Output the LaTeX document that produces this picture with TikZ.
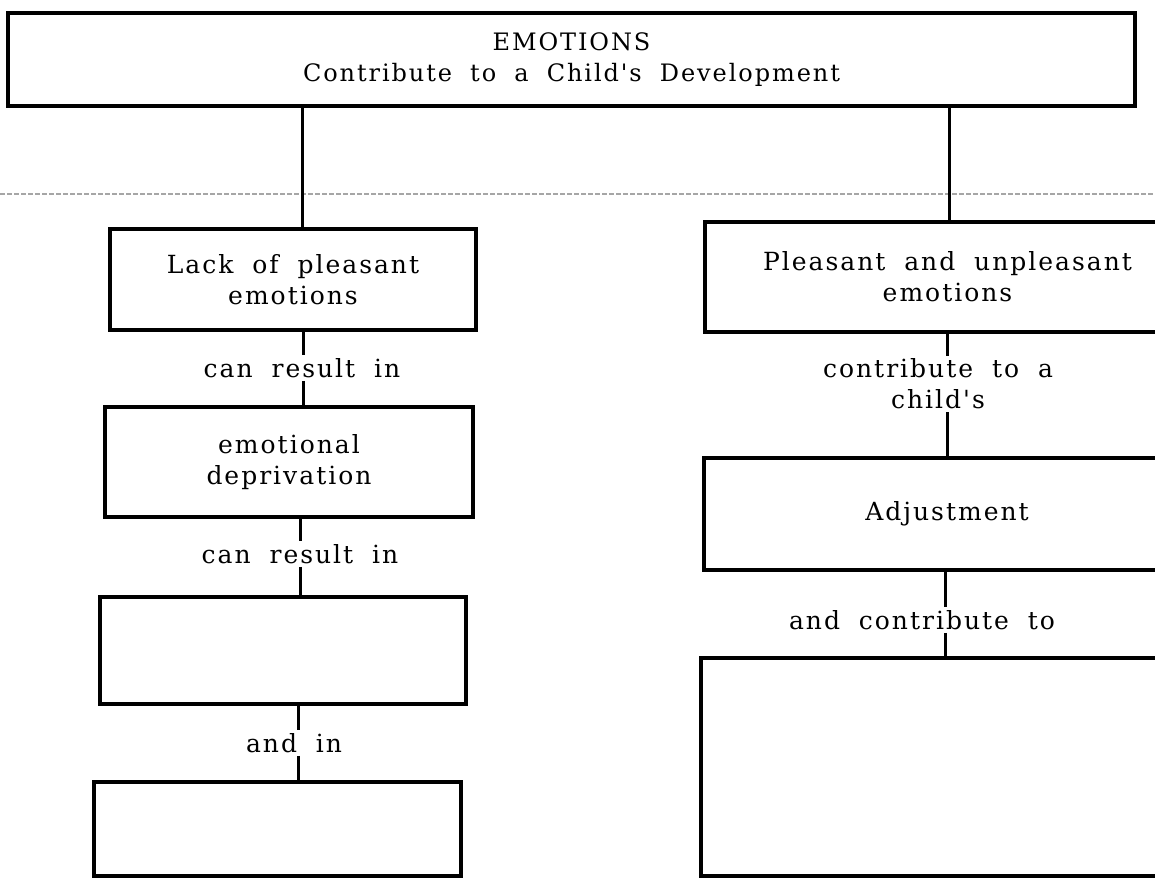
\documentclass[tikz,border=0pt]{standalone}
\usepackage{fontspec}
\setmainfont{DejaVu Serif}
\newfontfamily\spacedserif[LetterSpace=8,WordSpace=1.9]{DejaVu Serif}
\newcommand\lblfont{\spacedserif\fontsize{25}{31}\selectfont}
\newcommand\ttlfont{\spacedserif\fontsize{24}{33}\selectfont}
\begin{document}
\begin{tikzpicture}[x=1pt,y=-1pt,
  box/.style={draw,line width=3.8pt,inner sep=0pt,align=center,font=\lblfont},
  lbl/.style={inner sep=3pt,align=center,font=\lblfont},
  link/.style={line width=3pt}]
\useasboundingbox (0,0) rectangle (1155,878);
\fill[white] (0,0) rectangle (1155,878);

% fold line across the sheet
\draw[gray!70,line width=1.2pt,dash pattern=on 5pt off 2pt] (0,194) -- (1155,194);

% title box
\node[box,font=\ttlfont,minimum width=1127pt,minimum height=93pt] (top) at (571.5,59.5)
  {EMOTIONS\\[-2pt]Contribute to a Child's Development};

% left column
\node[box,minimum width=366pt,minimum height=101pt] (L1) at (293,279.5) {Lack of pleasant\\emotions};
\node[box,minimum width=368pt,minimum height=110pt] (L2) at (289,462) {emotional\\deprivation};
\node[box,minimum width=366pt,minimum height=107pt] (L3) at (283,650.5) {};
\node[box,minimum width=367pt,minimum height=94pt]  (L4) at (277.5,829) {};

\node[lbl] (c1) at (302,368) {can result in};
\node[lbl] (c2) at (300,554) {can result in};
\node[lbl] (c3) at (294,743) {and in};

% right column
\node[box,minimum width=485pt,minimum height=110pt] (R1) at (947.5,277) {Pleasant and unpleasant\\emotions};
\node[box,minimum width=486pt,minimum height=112pt] (R2) at (947,514) {Adjustment};
\node[box,minimum width=489pt,minimum height=218pt] (R3) at (945.5,767) {};

\node[lbl] (d1) at (938,384) {contribute to a\\child's};
\node[lbl] (d2) at (922,620) {and contribute to};

% x positions of the vertical links
\coordinate (lx1) at (302,0);
\coordinate (lx2) at (303,0);
\coordinate (lx3) at (300,0);
\coordinate (lx4) at (298,0);
\coordinate (rx1) at (949,0);
\coordinate (rx2) at (947,0);
\coordinate (rx3) at (945,0);

% links
\draw[link] (top.south -| lx1) -- (L1.north -| lx1);
\draw[link] (L1.south -| lx2) -- (c1.north -| lx2);
\draw[link] (c1.south -| lx2) -- (L2.north -| lx2);
\draw[link] (L2.south -| lx3) -- (c2.north -| lx3);
\draw[link] (c2.south -| lx3) -- (L3.north -| lx3);
\draw[link] (L3.south -| lx4) -- (c3.north -| lx4);
\draw[link] (c3.south -| lx4) -- (L4.north -| lx4);

\draw[link] (top.south -| rx1) -- (R1.north -| rx1);
\draw[link] (R1.south -| rx2) -- (d1.north -| rx2);
\draw[link] (d1.south -| rx2) -- (R2.north -| rx2);
\draw[link] (R2.south -| rx3) -- (d2.north -| rx3);
\draw[link] (d2.south -| rx3) -- (R3.north -| rx3);
\end{tikzpicture}
\end{document}
